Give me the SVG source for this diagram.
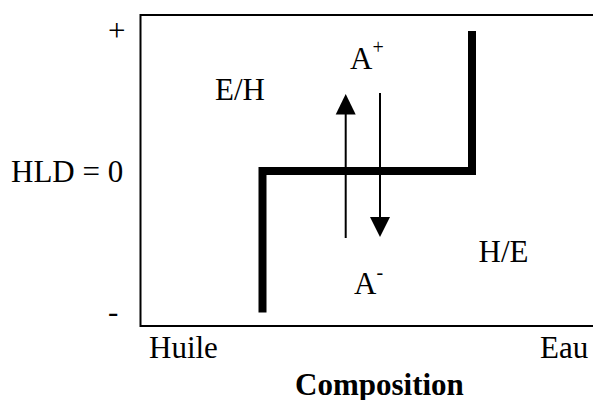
<svg xmlns="http://www.w3.org/2000/svg" width="593" height="400" viewBox="0 0 593 400">
<defs>
<style>
text{font-family:"Liberation Serif","Times New Roman",serif;font-size:31px;fill:#000}
.sup{font-size:20px}
.b{font-weight:bold}
.thin{stroke:#000;stroke-width:2;fill:none}
.arr{stroke:#000;stroke-width:2;fill:none}
</style>
</defs>
<rect width="593" height="400" fill="#fff"/>
<g id="frame">
<polyline class="thin" points="600,15 140.5,15 140.5,326 600,326"/>
</g>
<g id="curve">
<path d="M262.5,312.5 L262.5,171 L472,171 L472,31" stroke="#000" stroke-width="8" fill="none" stroke-linejoin="miter"/>
</g>
<g id="connectors">
<line class="arr" x1="345.7" y1="238" x2="345.7" y2="112"/>
<polygon points="345.7,94 335.7,114.5 355.7,114.5" fill="#000"/>
<line class="arr" x1="380" y1="93" x2="380" y2="219"/>
<polygon points="380,237 370,217 390,217" fill="#000"/>
</g>
<g id="labels">
<text x="108" y="41">+</text>
<text x="108" y="322">-</text>
<text x="11" y="181.5">HLD = 0</text>
<text x="215" y="100">E/H</text>
<text x="350" y="68.5">A<tspan class="sup" dy="-15">+</tspan></text>
<text x="478.5" y="261.5">H/E</text>
<text x="354" y="293.5">A<tspan class="sup" dy="-15">-</tspan></text>
<text x="149" y="358">Huile</text>
<text x="540" y="358">Eau</text>
<text class="b" x="295" y="395">Composition</text>
</g>
</svg>
